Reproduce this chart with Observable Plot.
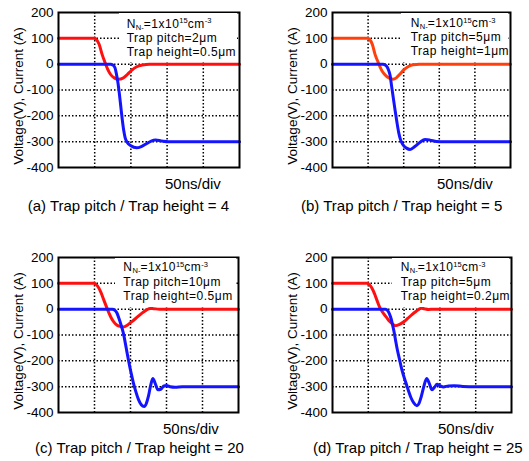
<!DOCTYPE html>
<html><head><meta charset="utf-8">
<script src="https://cdn.jsdelivr.net/npm/d3@7"></script>
<script src="https://cdn.jsdelivr.net/npm/@observablehq/plot@0.6"></script>
<style>
body{margin:0;background:#fff;}
#wrap{position:relative;width:529px;height:461px;overflow:hidden;font-family:"Liberation Sans",Arial,sans-serif;color:#000;background:#fff;}
.plotsvg{position:absolute;}
.note{position:absolute;background:#fff;font-size:12px;letter-spacing:0.5px;white-space:nowrap;box-sizing:border-box;}
.note .ln{white-space:nowrap;}
.note .sb{font-size:7.5px;letter-spacing:0;line-height:0;position:relative;top:2px;}
.note .sp{font-size:7.5px;letter-spacing:0;line-height:0;position:relative;top:-4.5px;}
.lbl{position:absolute;font-size:15px;line-height:15px;white-space:nowrap;}
</style>
</head><body><div id="wrap"></div>
<script>
// ---- data (time in ns, values in V / A) ----
const xDomain = [0, 250];
const yDomain = [-400, 200];
const yTicks = [-400, -300, -200, -100, 0, 100, 200];
const xGrid = [50, 100, 150, 200];
const yGrid = [-300, -200, -100, 0, 100];
const yLabel = "Voltage(V), Current (A)";
const divLabel = "50ns/div";
const captions = [
  "(a) Trap pitch / Trap height = 4",
  "(b) Trap pitch / Trap height = 5",
  "(c) Trap pitch / Trap height = 20",
  "(d) Trap pitch / Trap height = 25"
];
const trapPitch = ["2\u03bcm", "5\u03bcm", "10\u03bcm", "5\u03bcm"];
const trapHeight = ["0.5\u03bcm", "1\u03bcm", "0.5\u03bcm", "0.2\u03bcm"];

const redA = [[0,100],[49,100],[52,96],[56,78],[60,40],[64,8],[68,-20],[72,-40],[77,-53],[83,-58],[89,-54],[95,-40],[101,-24],[108,-10],[116,-3],[126,0],[250,0]];
const blueA = [[0,0],[72,0],[75,-3],[78,-14],[80,-38],[82,-70],[84,-113],[86,-163],[88,-213],[90,-255],[92,-284],[95,-303],[100,-316],[108,-324],[115,-318],[122,-307],[128,-298],[134,-294],[142,-297],[152,-300],[250,-300]];

const redB = [[0,100],[49,100],[52,96],[56,76],[60,36],[64,8],[68,-18],[72,-36],[77,-50],[85,-58],[90,-52],[95,-38],[100,-22],[106,-10],[113,-2],[122,0],[250,0]];
const blueB = [[0,0],[71,0],[74,-3],[77,-12],[79,-25],[81,-45],[83,-85],[85.5,-133],[88,-180],[90.5,-225],[93,-265],[95.5,-292],[99,-312],[104,-325],[109,-330],[116,-318],[123,-302],[130,-292],[137,-294],[146,-299],[156,-300],[250,-300]];

const redC = [[0,100],[49,100],[52,96],[56,82],[59.5,61],[63,35],[66.5,10],[70,-14],[73.5,-35],[77,-50],[81,-61],[86,-67],[90,-69],[96,-61],[102,-48],[108,-34],[113,-22],[118,-11],[123,-2],[127,3],[132,2],[140,0],[250,0]];
const blueC = [[0,0],[75,0],[78,-4],[81,-14],[84,-36],[87,-62],[90,-92],[93.5,-142],[97,-195],[100.5,-243],[104,-285],[107.5,-320],[111,-349],[115,-370],[119,-377],[122,-365],[125,-336],[128,-295],[131,-268],[134,-285],[138,-312],[142,-310],[146,-298],[150,-295],[155,-300],[162,-302],[172,-300],[250,-300]];

const redD = [[0,100],[48,100],[51,96],[55,82],[58.5,61],[62,35],[65.5,10],[70,-12],[75,-30],[80,-48],[84,-58],[88,-64],[93,-60],[99,-50],[105,-36],[111,-21],[117,-8],[121,0],[124,4],[128,2],[134,-1],[142,0],[250,0]];
const blueD = [[0,0],[74,0],[77,-5],[79.5,-18],[82,-38],[84,-62],[86.3,-92],[88.5,-127],[91,-163],[93.5,-193],[96,-224],[99,-255],[102.5,-285],[106,-315],[109.5,-342],[113.5,-363],[118,-374],[121,-364],[124,-338],[127.5,-300],[131.5,-268],[135,-286],[139,-312],[142.5,-302],[146,-291],[150,-296],[155,-301],[162,-297],[170,-296],[182,-299],[200,-300],[250,-300]];

const reds = [redA, redB, redC, redD];
const blues = [blueA, blueB, blueC, blueD];
const redColors = ["#ff1010", "#ff400c", "#ff1010", "#ff1010"];
const blueColor = "#1414ff";

// ---- layout ----
const layout = [
  {left:0,   top:0,   w:264, ml:58, mr:25, note:{l:119, t:13,  w:118, h:49, pl:7.7, pt:3.5, lh:14}, div:{l:165, b:188.3}, cap:{l:27.7, b:210.7}},
  {left:264, top:0,   w:265, ml:68, mr:19, note:{l:401, t:13,  w:107, h:49, pl:9.7, pt:3.3, lh:14}, div:{l:437, b:188.3}, cap:{l:301, b:210.5}},
  {left:0,   top:245, w:264, ml:58, mr:26, note:{l:115, t:258, w:121, h:49, pl:8.3, pt:2.0, lh:14.6}, div:{l:163, b:433.5}, cap:{l:35, b:452.7}},
  {left:264, top:245, w:265, ml:68, mr:18, note:{l:392, t:258, w:117, h:49, pl:8.7, pt:2.0, lh:14.6}, div:{l:438, b:433.5}, cap:{l:313, b:452.7}}
];

const wrap = document.getElementById("wrap");
const font = '"Liberation Sans", Arial, sans-serif';
const gridStyle = {stroke: "black", strokeOpacity: 1, strokeWidth: 1.5, strokeDasharray: "1.5,2"};

layout.forEach((L, i) => {
  const svg = Plot.plot({
    width: L.w, height: 180,
    marginLeft: L.ml, marginRight: L.mr, marginTop: 12, marginBottom: 13,
    x: {domain: xDomain, axis: null},
    y: {domain: yDomain},
    style: {fontFamily: font, fontSize: "13.5px", background: "white", color: "black", overflow: "visible"},
    marks: [
      Plot.gridX(xGrid, gridStyle),
      Plot.gridY(yGrid, gridStyle),
      Plot.line(reds[i], {x: d => d[0], y: d => d[1], stroke: redColors[i], strokeWidth: 3, curve: "monotone-x"}),
      Plot.line(blues[i], {x: d => d[0], y: d => d[1], stroke: blueColor, strokeWidth: 3, curve: "monotone-x"}),
      Plot.frame({stroke: "black", strokeWidth: 2}),
      Plot.axisY(yTicks, {tickSize: 0, tickPadding: 5, tickFormat: d => String(d), fontSize: 13.5, label: null}),
      Plot.text([yLabel], {frameAnchor: "left", rotate: -90, dx: -40, dy: 6, text: d => d, fontSize: 13.5, textAnchor: "middle", lineAnchor: "middle"})
    ]
  });
  svg.classList.add("plotsvg");
  svg.style.left = L.left + "px";
  svg.style.top = L.top + "px";
  wrap.appendChild(svg);

  // annotation box
  const n = L.note;
  const note = document.createElement("div");
  note.className = "note";
  Object.assign(note.style, {left: n.l + "px", top: n.t + "px", width: n.w + "px", height: n.h + "px", paddingLeft: n.pl + "px", paddingTop: n.pt + "px", lineHeight: n.lh + "px"});
  note.innerHTML =
    '<div class="ln">N<span class="sb">N-</span>=1x10<span class="sp">15</span>cm<span class="sp">-3</span></div>' +
    '<div class="ln">Trap pitch=' + trapPitch[i] + '</div>' +
    '<div class="ln">Trap height=' + trapHeight[i] + '</div>';
  wrap.appendChild(note);

  // 50ns/div
  const dl = document.createElement("div");
  dl.className = "lbl";
  dl.textContent = divLabel;
  dl.style.left = L.div.l + "px";
  dl.style.top = (L.div.b - 12.7) + "px";
  wrap.appendChild(dl);

  // caption
  const cp = document.createElement("div");
  cp.className = "lbl";
  cp.textContent = captions[i];
  cp.style.left = L.cap.l + "px";
  cp.style.top = (L.cap.b - 12.7) + "px";
  wrap.appendChild(cp);
});
</script>
</body></html>
